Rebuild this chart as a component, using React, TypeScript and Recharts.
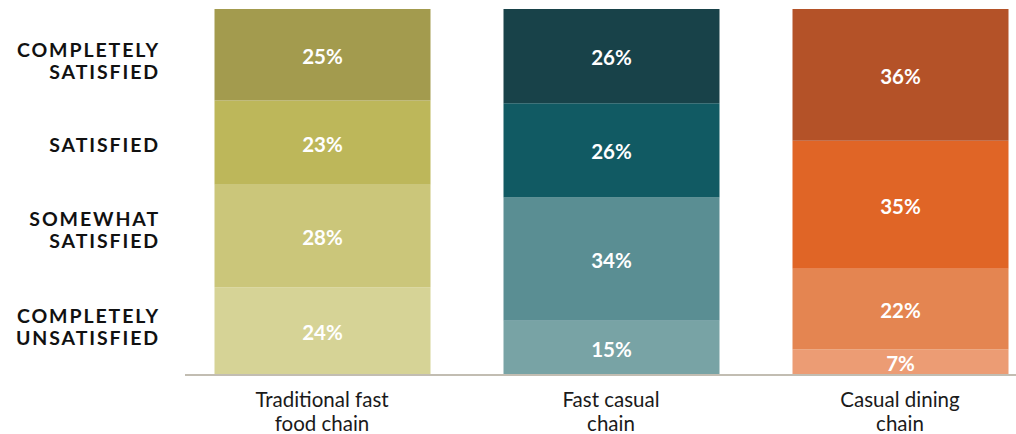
import { BarChart, Bar, XAxis, YAxis, Cell, LabelList } from 'recharts'

const categories = ['Traditional fast\nfood chain', 'Fast casual\nchain', 'Casual dining\nchain']
const completelySatisfied = [25, 26, 36]
const satisfied = [23, 26, 35]
const somewhatSatisfied = [28, 34, 22]
const completelyUnsatisfied = [24, 15, 7]

// row labels on the left, placed against the 0..1 expanded scale
const levelTicks = [0.135, 0.4, 0.63, 0.862]
const levelLabels = ['COMPLETELY\nUNSATISFIED', 'SOMEWHAT\nSATISFIED', 'SATISFIED', 'COMPLETELY\nSATISFIED']

// colours per bar, bottom segment first
const palettes = [
  ['#D6D396', '#CBC67A', '#BDB75A', '#A39B4E'],
  ['#78A3A5', '#5A8E93', '#115A63', '#184249'],
  ['#EC9C74', '#E48551', '#E06526', '#B45228'],
]

const data = categories.map((name, i) => ({
  name,
  cu: completelyUnsatisfied[i],
  ss: somewhatSatisfied[i],
  s: satisfied[i],
  cs: completelySatisfied[i],
}))

const series: { key: string; values: number[] }[] = [
  { key: 'cu', values: completelyUnsatisfied },
  { key: 'ss', values: somewhatSatisfied },
  { key: 's', values: satisfied },
  { key: 'cs', values: completelySatisfied },
]

const font = 'Lato, "Open Sans", sans-serif'

const LevelTick = (props: any) => {
  const { x, y, payload } = props
  const idx = levelTicks.indexOf(payload.value)
  const lines = (levelLabels[idx] ?? '').split('\n')
  const lh = 22
  const startY = y - ((lines.length - 1) * lh) / 2
  return (
    <text x={x} y={startY} textAnchor="end" dominantBaseline="central"
      fill="#111" fontFamily={font} fontWeight={700} fontSize={19.5} letterSpacing={1.9}>
      {lines.map((l, i) => (
        <tspan key={i} x={x} y={startY + i * lh} dominantBaseline="central">{l}</tspan>
      ))}
    </text>
  )
}

const CategoryTick = (props: any) => {
  const { x, y, payload } = props
  const lines = String(payload.value).split('\n')
  return (
    <text x={x} y={y} textAnchor="middle" fill="#1a1a1a" fontFamily={font} fontSize={20.5}>
      {lines.map((l, i) => (
        <tspan key={i} x={x} y={y + 16 + i * 23.5} dominantBaseline="central">{l}</tspan>
      ))}
    </text>
  )
}

const makeLabel = (values: number[]) => (props: any) => {
  const { x, y, width, height, index } = props
  return (
    <text x={x + width / 2} y={y + height / 2 + 1} textAnchor="middle" dominantBaseline="central"
      fill="#fff" fontFamily={font} fontWeight={700} fontSize={20.5}>
      {values[index]}%
    </text>
  )
}

export default function App() {
  return (
    <div style={{ position: 'absolute', left: 0, top: 0 }}>
      <BarChart width={1016} height={434} data={data} stackOffset="expand"
        margin={{ top: 9, right: 0, bottom: 0, left: 0 }} barSize={216}>
        <XAxis dataKey="name" height={59} tick={<CategoryTick />} tickLine={false}
          axisLine={{ stroke: '#C2BDB2', strokeWidth: 2 }} padding={{ left: -7.5, right: -28.5 }}
          interval={0} />
        <YAxis type="number" domain={[0, 1]} ticks={levelTicks} width={185} tick={<LevelTick />}
          axisLine={false} tickLine={false} tickSize={0} tickMargin={25} />
        {series.map((s, si) => (
          <Bar key={s.key} dataKey={s.key} stackId="a" isAnimationActive={false}>
            {data.map((_, ci) => (
              <Cell key={ci} fill={palettes[ci][si]} />
            ))}
            <LabelList content={makeLabel(s.values)} />
          </Bar>
        ))}
      </BarChart>
    </div>
  )
}
